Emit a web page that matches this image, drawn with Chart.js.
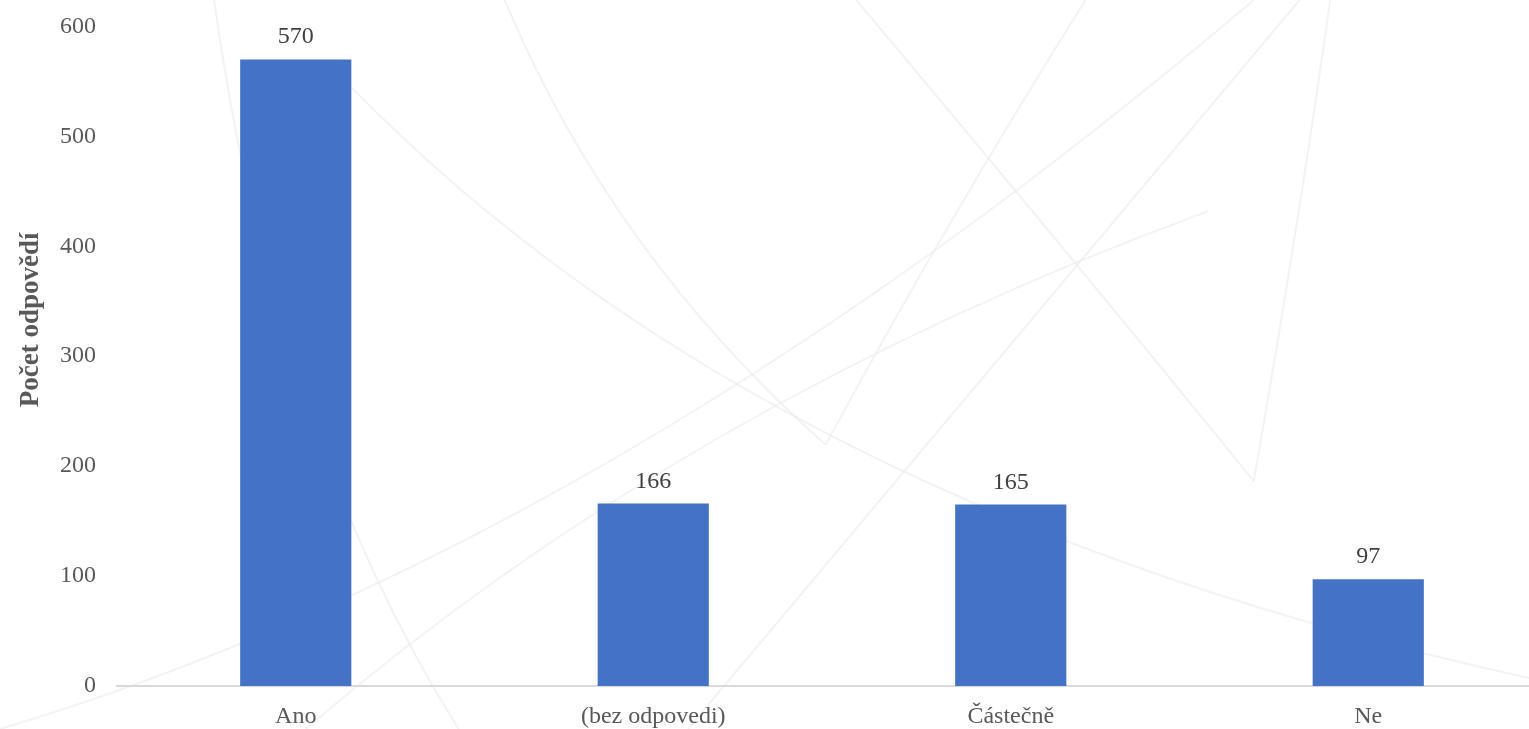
<!DOCTYPE html>
<html>
<head>
<meta charset="utf-8">
<script src="https://cdn.jsdelivr.net/npm/chart.js@4/dist/chart.umd.min.js"></script>
<style>
  html, body { margin: 0; padding: 0; background: #ffffff; overflow: hidden; }
  #wrap { position: relative; width: 1547px; height: 738px; margin-top: -9px; }
</style>
</head>
<body>
<div id="wrap"><canvas id="c"></canvas></div>
<script>
const categories = ["Ano", "(bez odpovedi)", "Částečně", "Ne"];
const counts = [570, 166, 165, 97];
const yTicks = [0, 100, 200, 300, 400, 500, 600];
const yTitle = "Počet odpovědí";

const FONT = "'Liberation Serif', 'Times New Roman', serif";

// faint decorative background (not data)
const bgDecor = {
  id: 'bgDecor',
  beforeDraw(chart) {
    const ctx = chart.ctx;
    const W = 1529, H = 729, OY = 9;
    ctx.save();
    ctx.fillStyle = '#ffffff';
    ctx.fillRect(0, 0, chart.width, chart.height);
    ctx.strokeStyle = 'rgba(235,235,235,0.6)';
    ctx.lineWidth = 2;
    const curves = [
      [[0.33,0.00],[0.40,0.35],[0.54,0.61]],
      [[0.54,0.61],[0.62,0.30],[0.71,0.00]],
      [[0.56,0.00],[0.70,0.35],[0.82,0.66]],
      [[0.82,0.66],[0.85,0.30],[0.87,0.00]],
      [[0.23,0.12],[0.50,0.70],[1.00,0.93]],
      [[0.14,0.00],[0.18,0.60],[0.30,1.00]],
      [[0.20,1.00],[0.45,0.55],[0.79,0.29]],
      [[0.00,1.00],[0.40,0.75],[0.82,0.00]],
      [[0.45,1.00],[0.65,0.50],[0.85,0.00]],
    ];
    for (const c of curves) {
      ctx.beginPath();
      ctx.moveTo(c[0][0]*W, c[0][1]*H + OY);
      ctx.quadraticCurveTo(c[1][0]*W, c[1][1]*H + OY, c[2][0]*W, c[2][1]*H + OY);
      ctx.stroke();
    }
    ctx.restore();
  }
};

const valueLabels = {
  id: 'valueLabels',
  afterDatasetsDraw(chart) {
    const ctx = chart.ctx;
    const meta = chart.getDatasetMeta(0);
    ctx.save();
    ctx.font = "24px " + FONT;
    ctx.fillStyle = '#404040';
    ctx.textAlign = 'center';
    ctx.textBaseline = 'alphabetic';
    meta.data.forEach((bar, i) => {
      ctx.fillText(String(chart.data.datasets[0].data[i]), bar.x, bar.y - 16);
    });
    ctx.restore();
  }
};

const yTitlePlugin = {
  id: 'yTitlePlugin',
  afterDraw(chart) {
    const ctx = chart.ctx;
    const area = chart.chartArea;
    ctx.save();
    ctx.translate(38, area.top + (area.bottom - area.top) * 0.445);
    ctx.rotate(-Math.PI / 2);
    ctx.font = "bold 27px " + FONT;
    ctx.fillStyle = '#595959';
    ctx.textAlign = 'center';
    ctx.textBaseline = 'alphabetic';
    ctx.fillText(yTitle, 0, 0);
    ctx.restore();
  }
};

new Chart(document.getElementById('c'), {
  type: 'bar',
  data: {
    labels: categories,
    datasets: [{
      data: counts,
      backgroundColor: '#4472C4',
      borderWidth: 0,
      barPercentage: 0.311,
      categoryPercentage: 1.0
    }]
  },
  options: {
    responsive: true,
    maintainAspectRatio: false,
    animation: false,
    events: [],
    layout: { padding: { top: 15, right: 0, bottom: 0, left: 0 } },
    plugins: {
      legend: { display: false },
      tooltip: { enabled: false },
      title: { display: false }
    },
    scales: {
      x: {
        grid: { display: false, drawTicks: false },
        border: { display: true, color: '#d9d9d9', width: 2 },
        ticks: { color: '#595959', font: { family: FONT, size: 24 }, padding: 16, maxRotation: 0 },
        afterFit(scale) { scale.height = 43; }
      },
      y: {
        min: 0,
        max: 600,
        afterBuildTicks(scale) { scale.ticks = yTicks.map(v => ({ value: v })); },
        grid: { display: false, drawTicks: false },
        border: { display: false },
        ticks: { color: '#595959', font: { family: FONT, size: 24 }, padding: 21 },
        title: { display: false },
        afterFit(scale) { scale.width = 117; }
      }
    }
  },
  plugins: [bgDecor, valueLabels, yTitlePlugin]
});
</script>
</body>
</html>
